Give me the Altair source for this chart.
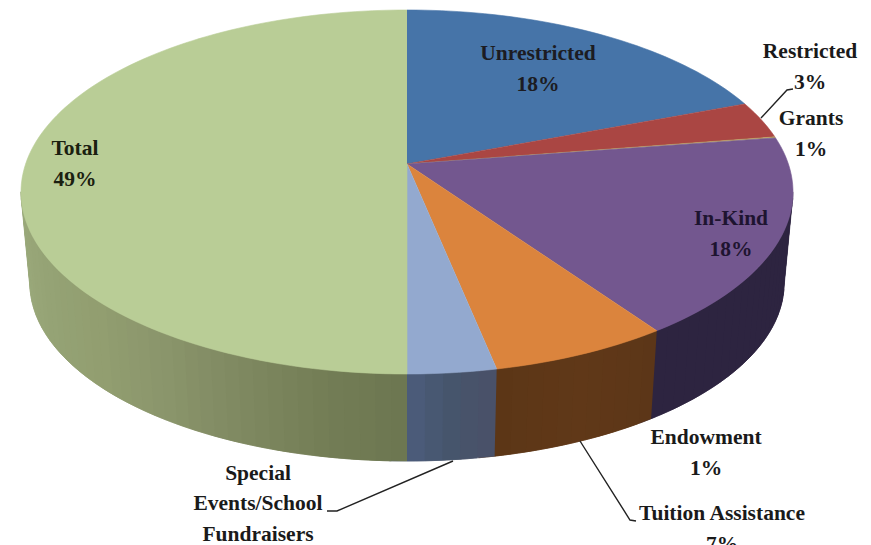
import math
import altair as alt
import pandas as pd

# Slice shares as drawn (percent of the circle, clockwise from 12 o'clock)
names = ["Unrestricted", "Restricted", "Grants", "In-Kind", "Tuition Assistance", "Special Events", "Total"]
shares = [19.2, 3.3, 0.1, 17.7, 6.5, 3.2, 50.0]
top_colors = ["#4674A8", "#AA4643", "#B8A060", "#73578F", "#DB843D", "#93A9CF", "#B9CD96"]
# wall shade stops for each visible slice (clockwise)
wall_stops = {
    "In-Kind": [(45, 36, 64), (45, 36, 64)],
    "Tuition Assistance": [(92, 54, 24), (96, 56, 24), (92, 54, 22)],
    "Special Events": [(74, 80, 104), (70, 85, 108), (76, 92, 124)],
    "Total": [(108, 118, 80), (116, 126, 86), (128, 138, 98), (139, 150, 108),
              (146, 158, 112), (148, 162, 116), (152, 166, 120), (155, 170, 124)],
}

# Text of the labels
label_text = ["Unrestricted", "18%", "Restricted", "3%", "Grants", "1%", "In-Kind", "18%", "Total", "49%",
              "Endowment", "1%", "Tuition Assistance", "7%", "Special", "Events/School", "Fundraisers"]
label_x = [538, 538, 810, 810, 811, 811, 731, 731, 75, 75, 706, 706, 722, 722, 258, 258, 258]
label_y = [51, 82, 49, 80, 116, 147, 216, 247, 146, 177, 435, 466, 511, 542, 471, 501, 532]
label_col = ["#1C1C22", "#1C1C22", "#1a1a1a", "#1a1a1a", "#1a1a1a", "#1a1a1a", "#1E1430", "#1E1430", "#1a2010", "#1a2010",
             "#1a1a1a", "#1a1a1a", "#1a1a1a", "#1a1a1a", "#1a1a1a", "#1a1a1a", "#1a1a1a"]

leader_x = [[761, 787, 793], [580, 630, 636], [453, 337, 327]]
leader_y = [[115, 87, 86], [438, 517, 518], [458, 508, 508]]

# Projection of the tilted disc
CX, APEX, K, A, B = 407.0, 161.0, 0.1538, 381.4, 177.7
MIDY, RY, BOTY, BOTRY, BOTRX_RATIO = 189.0, 182.0, 280.0, 178.0, 0.977


def rim(deg):
    t = math.radians(deg)
    u, v = math.sin(t), math.cos(t)
    d = 1 + K * v
    return CX + A * u / d, APEX - B * v / d


def bottom(deg):
    x, y = rim(deg)
    return CX + BOTRX_RATIO * (x - CX), BOTY + BOTRY * (y - MIDY) / RY


rows = []
pid = 0


def add_poly(pts, color):
    global pid
    for i, (x, y) in enumerate(pts):
        rows.append({"x": x, "y": y, "o": i, "pid": "p%04d" % pid, "color": color})
    pid += 1


def shade(stops, f):
    p = f * (len(stops) - 1)
    i = min(int(p), len(stops) - 2)
    r = p - i
    c = [round(stops[i][k] + (stops[i + 1][k] - stops[i][k]) * r) for k in range(3)]
    return "#%02X%02X%02X" % tuple(c)


WALL_START, WALL_END = 98.8, 261.2
cum = 0.0
edges = {}
for n, s in zip(names, shares):
    edges[n] = (cum * 3.6, (cum + s) * 3.6)
    cum += s

# side walls first; every strip runs on under the next one so no seams show
for n in ["In-Kind", "Tuition Assistance", "Special Events", "Total"]:
    a0, a1 = edges[n]
    a0, a1 = max(a0, WALL_START), min(a1, WALL_END)
    strips = max(2, int((a1 - a0) / 2.0))
    for j in range(strips):
        s0 = a0 + (a1 - a0) * j / strips
        s1 = min(WALL_END, a0 + (a1 - a0) * (j + 2) / strips)
        c = shade(wall_stops[n], (j + 0.5) / strips)
        angs = [s0 + (s1 - s0) * q / 4 for q in range(5)]
        add_poly([rim(q) for q in angs] + [bottom(q) for q in reversed(angs)], c)

# top faces
for n, c in zip(names, top_colors):
    a0, a1 = edges[n]
    steps = max(3, int((a1 - a0) / 1.5))
    angs = [a0 + (a1 - a0) * q / steps for q in range(steps + 1)]
    add_poly([(CX, APEX)] + [rim(q) for q in angs], c)

df = pd.DataFrame(rows)
xs = alt.Scale(domain=[8, 863], nice=False, zero=False)
ys = alt.Scale(domain=[545, 8], nice=False, zero=False)
xe = alt.X("x:Q", scale=xs, axis=None)
ye = alt.Y("y:Q", scale=ys, axis=None)

polys = alt.Chart(df).mark_line(strokeWidth=0.6, interpolate="linear").encode(
    x=xe, y=ye, order="o:Q", detail="pid:N",
    fill=alt.Fill("color:N", scale=None),
    stroke=alt.Stroke("color:N", scale=None),
)

lead_rows = []
for i, (lx, ly) in enumerate(zip(leader_x, leader_y)):
    for j, (a, b) in enumerate(zip(lx, ly)):
        lead_rows.append({"x": a, "y": b, "o": j, "k": i})
leaders = alt.Chart(pd.DataFrame(lead_rows)).mark_line(color="#222222", strokeWidth=1.4).encode(
    x=xe, y=ye, order="o:Q", detail="k:N")

labels = alt.Chart(pd.DataFrame({"x": label_x, "y": label_y, "t": label_text, "c": label_col})).mark_text(
    font="Liberation Serif", fontWeight="bold", fontSize=21.5, align="center", baseline="middle"
).encode(x=xe, y=ye, text="t:N", color=alt.Color("c:N", scale=None))

chart = alt.layer(polys, leaders, labels).properties(
    width=855, height=537, padding=0, background="#FFFFFF"
).configure_view(stroke=None)

chart.save("out.html", embed_options={"renderer": "svg", "actions": False})
